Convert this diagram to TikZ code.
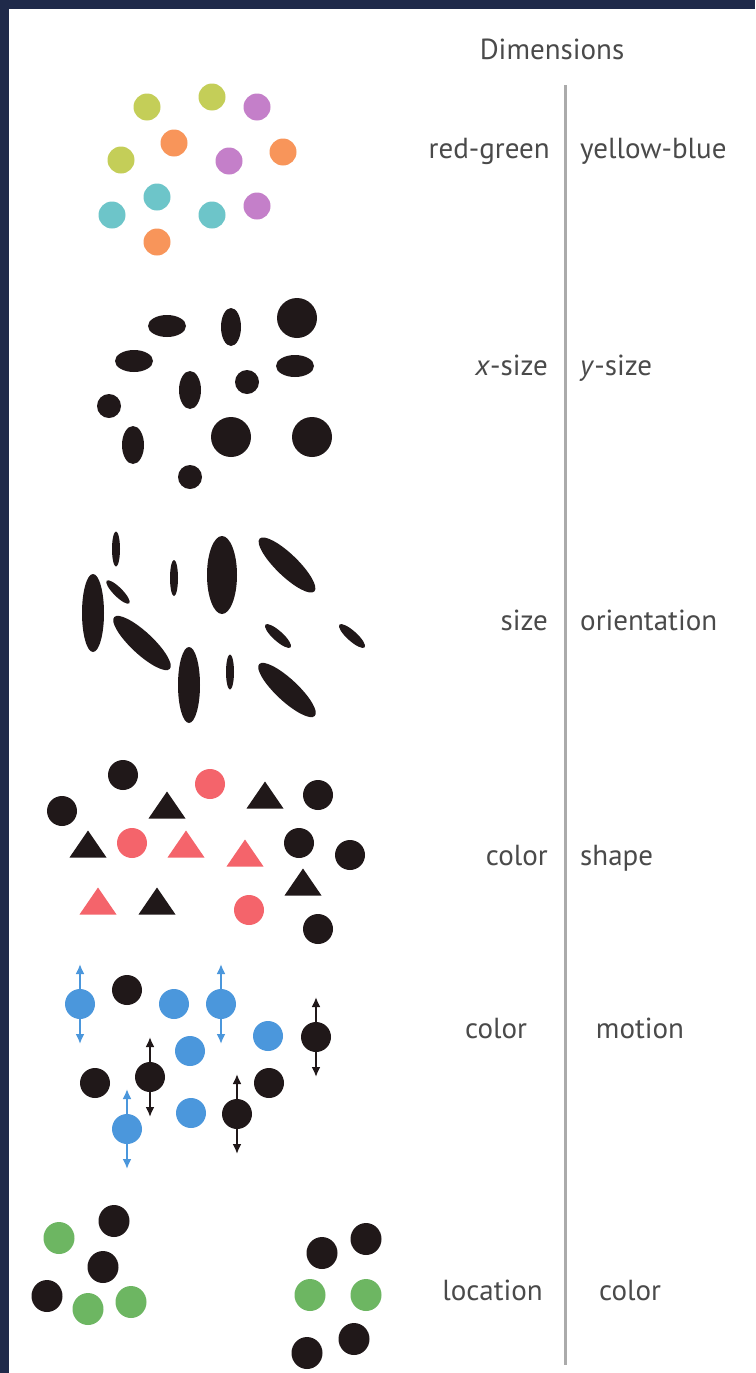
\documentclass[tikz,border=0pt]{standalone}
\usepackage{fontspec}
\setmainfont{PT Sans}
\usetikzlibrary{arrows.meta}
\definecolor{navy}{HTML}{1F2A4A}
\definecolor{ygreen}{HTML}{C4CE58}
\definecolor{purp}{HTML}{C47FC9}
\definecolor{orng}{HTML}{F8955A}
\definecolor{teal2}{HTML}{6DC5C9}
\definecolor{ink}{HTML}{201819}
\definecolor{coral}{HTML}{F4646B}
\definecolor{blue2}{HTML}{4B97DC}
\definecolor{green2}{HTML}{6DB662}
\definecolor{textgray}{HTML}{4A4A4A}
\definecolor{linegray}{HTML}{ABABAB}
\begin{document}
\begin{tikzpicture}[x=1pt,y=-1pt,
  lbl/.style={text=textgray, font=\fontsize{29}{30}\selectfont, inner sep=0pt, text height=0.72em, text depth=0.22em},
  motionarrow/.style={line width=2.4pt, {Latex[length=10pt,width=9pt]}-{Latex[length=10pt,width=9pt]}}]
\useasboundingbox (0,0) rectangle (755,1373);
\fill[navy] (0,0) rectangle (755,1373);
\fill[white] (9,9) rectangle (755,1373);
% divider
\coordinate (ltop) at (565,85);
\coordinate (lbot) at (565,1365);
\draw[linegray, line width=3pt] (ltop) -- (lbot);
% labels
\node[lbl] (dim) at (552,57) {Dimensions};
\node[lbl, anchor=east] (rg) at (550,156) {red-green};
\node[lbl, anchor=west] (yb) at (580,156) {yellow-blue};
\node[lbl, anchor=east] (xs) at (548,373) {\textit{x}-size};
\node[lbl, anchor=west] (ys) at (580,373) {\textit{y}-size};
\node[lbl, anchor=east] (sz) at (548,628) {size};
\node[lbl, anchor=west] (ori) at (580,628) {orientation};
\node[lbl, anchor=east] (col1) at (548,863) {color};
\node[lbl, anchor=west] (shp) at (580,863) {shape};
\node[lbl] (col2) at (496,1036) {color};
\node[lbl] (mot) at (640,1036) {motion};
\node[lbl, anchor=east] (loc) at (543,1298) {location};
\node[lbl] (col3) at (630,1298) {color};
% row 1: colored dots
\foreach \x/\y/\c in {147/107/ygreen, 212/97/ygreen, 257/107/purp, 174/143/orng,
  283/152/orng, 121/160/ygreen, 229/161/purp, 157/197/teal2, 112/215/teal2,
  212/215/teal2, 257/206/purp, 157/242/orng}
  \fill[\c] (\x,\y) circle[radius=13.5pt];
% row 2: x-size / y-size
\foreach \x/\y/\a/\b in {167/326/19/11, 231/327/10/19, 297/318/20/20, 134/361/19/11,
  295/366/19/11, 190/390/11/19, 247/382/12/12, 109/406/12/12, 133/445/11/19,
  231/437/20/20, 312/437/20/20, 190/477/12/12}
  \fill[ink] (\x,\y) circle[x radius=\a pt, y radius=\b pt];
% row 3: size / orientation
\foreach \x/\y/\a/\b/\r in {116/549/4/17.5/0, 174/578/4/18/0, 222/575/15/39/0,
  287/565/38/11/-44, 118/592/16/4.5/-45, 93/613/11/39/0, 142/643/38/11/-43,
  189/685/11/38/0, 230/672/4/17.5/0, 278/636/17/5/-42, 352/636/17/5/-42,
  287/690/38/11/-43}
  \fill[ink] (\x,\y) circle[x radius=\a pt, y radius=\b pt, rotate=\r];
% row 4: color / shape
\foreach \x/\y/\c in {123/775/ink, 62/811/ink, 210/784/coral, 318/795/ink,
  132/843/coral, 299/843/ink, 350/855/ink, 249/910/coral, 318/929/ink}
  \fill[\c] (\x,\y) circle[radius=15pt];
\foreach \x/\y/\c in {167/805/ink, 265/795/ink, 88/844/ink, 186/844/coral,
  245/853/coral, 303/882/ink, 98/901/coral, 157/901/ink}
  \fill[\c] ({\x-18.5},{\y+13.5}) -- (\x,{\y-13.5}) -- ({\x+18.5},{\y+13.5}) -- cycle;
% row 5: color / motion
\foreach \x/\y/\c in {80/1004/blue2, 221/1004/blue2, 316/1037/ink, 150/1077/ink,
  237/1114/ink, 127/1129/blue2}
  \draw[motionarrow, \c] (\x,{\y-40}) -- (\x,{\y+40});
\foreach \x/\y/\c in {80/1004/blue2, 127/990/ink, 174/1004/blue2, 221/1004/blue2,
  268/1036/blue2, 316/1037/ink, 190/1051/blue2, 95/1083/ink, 150/1077/ink,
  269/1083/ink, 191/1113/blue2, 237/1114/ink, 127/1129/blue2}
  \fill[\c] (\x,\y) circle[radius=15pt];
% row 6: location / color
\foreach \x/\y/\c in {59/1238/green2, 114/1221/ink, 103/1267/ink, 47/1296/ink,
  88/1309/green2, 131/1302/green2, 322/1253/ink, 366/1239/ink, 310/1295/green2,
  366/1295/green2, 354/1339/ink, 307/1353/ink}
  \fill[\c] (\x,\y) circle[x radius=15.5pt, y radius=16pt];
\end{tikzpicture}
\end{document}
